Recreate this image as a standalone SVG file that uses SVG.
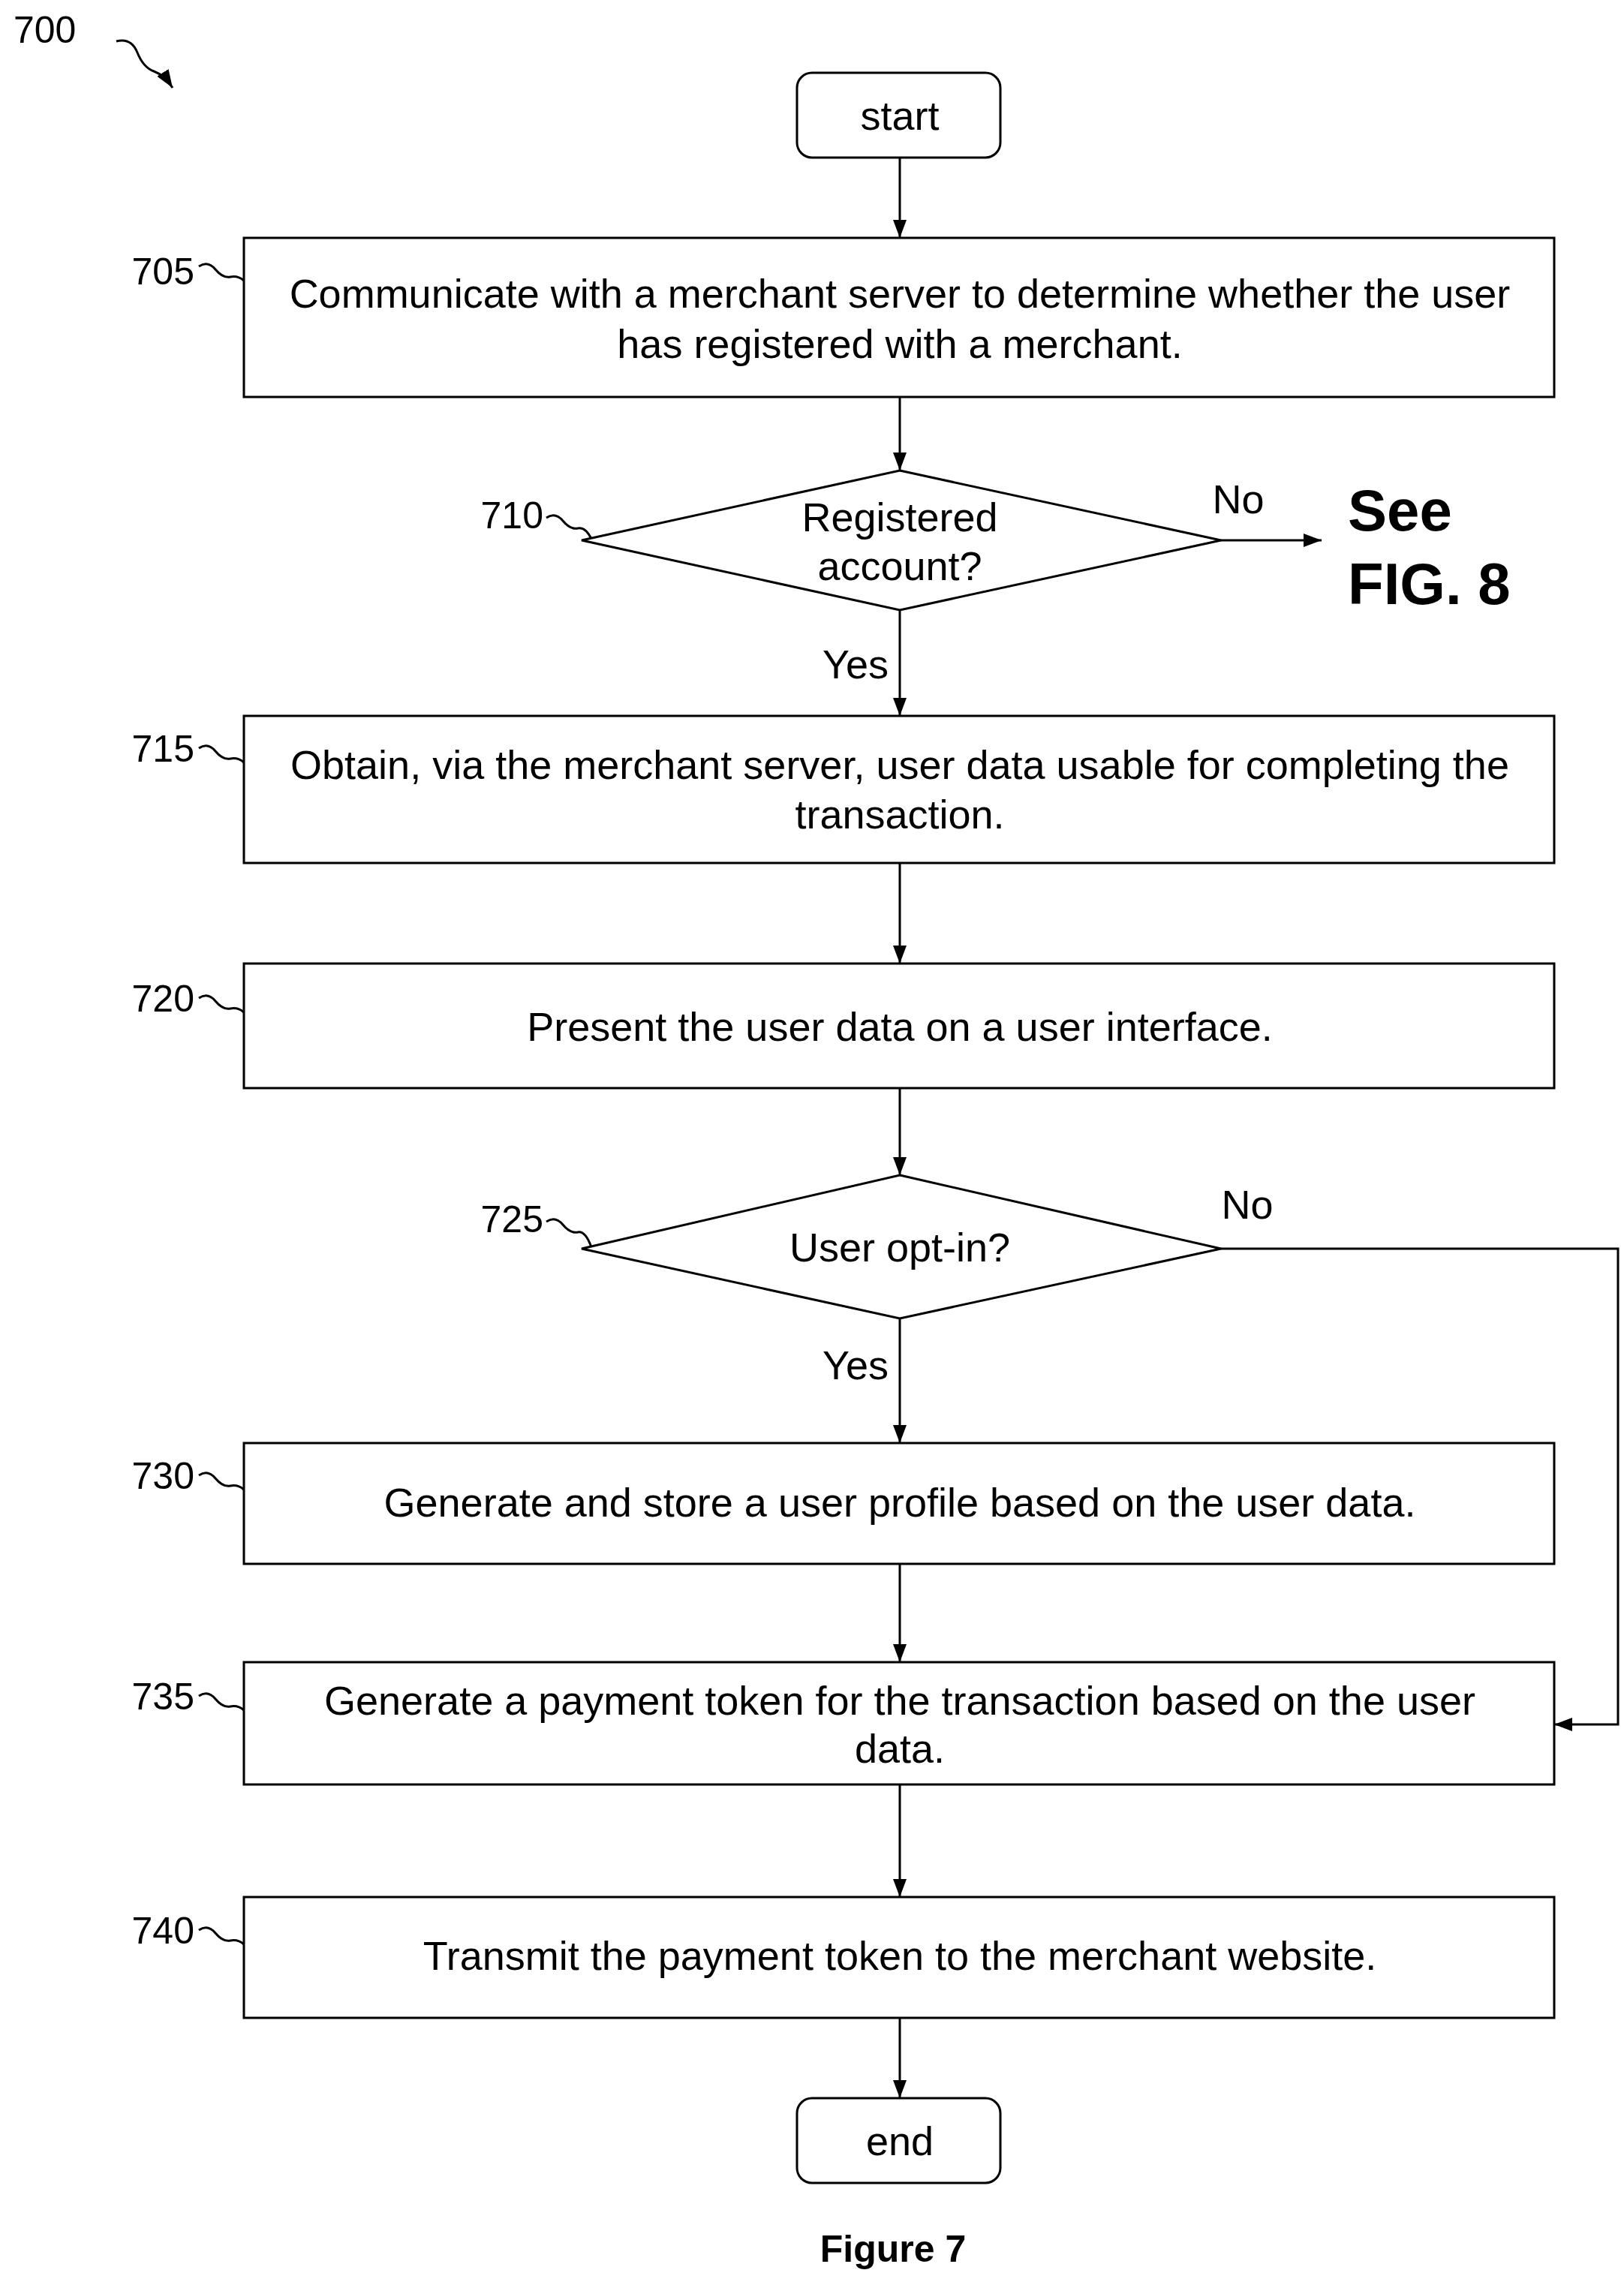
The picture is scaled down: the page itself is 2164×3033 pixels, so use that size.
<svg xmlns="http://www.w3.org/2000/svg" width="2164" height="3033" viewBox="0 0 2164 3033">
<style>
.b{fill:#fff;stroke:#000;stroke-width:3}
.c{fill:none;stroke:#000;stroke-width:3}
.t{font-family:"Liberation Sans",Arial,sans-serif;font-size:54px;text-anchor:middle;dominant-baseline:central;fill:#000}
.l{font-family:"Liberation Sans",Arial,sans-serif;font-size:50px;text-anchor:end;dominant-baseline:central;fill:#000}
.bold{font-family:"Liberation Sans",Arial,sans-serif;font-weight:bold;fill:#000}
</style>
<defs><marker id="a2" markerWidth="24" markerHeight="18" refX="24" refY="9" orient="auto" markerUnits="userSpaceOnUse"><path d="M0,0 L24,9 L0,18 Z" fill="#000"/></marker></defs>
<g id="connectors" class="c">
<path d="M1199,210 V317" marker-end="url(#a2)"/>
<path d="M1199,529 V627" marker-end="url(#a2)"/>
<path d="M1627,720 H1761" marker-end="url(#a2)"/>
<path d="M1199,813 V954" marker-end="url(#a2)"/>
<path d="M1199,1150 V1284" marker-end="url(#a2)"/>
<path d="M1199,1450 V1566" marker-end="url(#a2)"/>
<path d="M1199,1757 V1923" marker-end="url(#a2)"/>
<path d="M1627,1664 H2156 V2298 H2071" marker-end="url(#a2)"/>
<path d="M1199,2084 V2215" marker-end="url(#a2)"/>
<path d="M1199,2378 V2528" marker-end="url(#a2)"/>
<path d="M1199,2689 V2796" marker-end="url(#a2)"/>
<path d="M155,55 q20,-5 28,15 t22,25 t25,22" marker-end="url(#a2)"/>
<path d="M265,355 q12,-8 22,4 t20,10 t18,5"/>
<path d="M728,690 q12,-8 22,4 t20,10 t18,14"/>
<path d="M265,997 q12,-8 22,4 t20,10 t18,5"/>
<path d="M265,1330 q12,-8 22,4 t20,10 t18,5"/>
<path d="M728,1628 q12,-8 22,4 t20,10 t18,20"/>
<path d="M265,1966 q12,-8 22,4 t20,10 t18,5"/>
<path d="M265,2260 q12,-8 22,4 t20,10 t18,5"/>
<path d="M265,2572 q12,-8 22,4 t20,10 t18,5"/>
</g>
<text x="18" y="40" class="l" style="text-anchor:start">700</text>
<g id="start"><rect class="b" x="1062" y="97" width="271" height="113" rx="20"/><text class="t" x="1199" y="154">start</text></g>
<g id="n705"><rect class="b" x="325" y="317" width="1746" height="212"/><text class="t" x="1199" y="391">Communicate with a merchant server to determine whether the user</text><text class="t" x="1199" y="458">has registered with a merchant.</text><text class="l" x="259" y="362">705</text></g>
<g id="n710"><polygon class="b" points="1199,627 1627,720 1199,813 775,720"/><text class="t" x="1199" y="689">Registered</text><text class="t" x="1199" y="754">account?</text><text class="l" x="724" y="687">710</text>
<text class="t" x="1650" y="665">No</text><text class="t" x="1140" y="885">Yes</text></g>
<g id="fig8"><text class="bold" x="1796" y="707" font-size="78">See</text><text class="bold" x="1796" y="805" font-size="78">FIG. 8</text></g>
<g id="n715"><rect class="b" x="325" y="954" width="1746" height="196"/><text class="t" x="1199" y="1019">Obtain, via the merchant server, user data usable for completing the</text><text class="t" x="1199" y="1085">transaction.</text><text class="l" x="259" y="998">715</text></g>
<g id="n720"><rect class="b" x="325" y="1284" width="1746" height="166"/><text class="t" x="1199" y="1368">Present the user data on a user interface.</text><text class="l" x="259" y="1331">720</text></g>
<g id="n725"><polygon class="b" points="1199,1566 1627,1664 1199,1757 775,1664"/><text class="t" x="1199" y="1662">User opt-in?</text><text class="l" x="724" y="1625">725</text>
<text class="t" x="1662" y="1605">No</text><text class="t" x="1140" y="1819">Yes</text></g>
<g id="n730"><rect class="b" x="325" y="1923" width="1746" height="161"/><text class="t" x="1199" y="2002">Generate and store a user profile based on the user data.</text><text class="l" x="259" y="1967">730</text></g>
<g id="n735"><rect class="b" x="325" y="2215" width="1746" height="163"/><text class="t" x="1199" y="2266">Generate a payment token for the transaction based on the user</text><text class="t" x="1199" y="2330">data.</text><text class="l" x="259" y="2261">735</text></g>
<g id="n740"><rect class="b" x="325" y="2528" width="1746" height="161"/><text class="t" x="1199" y="2606">Transmit the payment token to the merchant website.</text><text class="l" x="259" y="2573">740</text></g>
<g id="end"><rect class="b" x="1062" y="2796" width="271" height="113" rx="20"/><text class="t" x="1199" y="2853">end</text></g>
<text class="bold" x="1190" y="2997" font-size="50" text-anchor="middle" dominant-baseline="central">Figure 7</text>
</svg>
